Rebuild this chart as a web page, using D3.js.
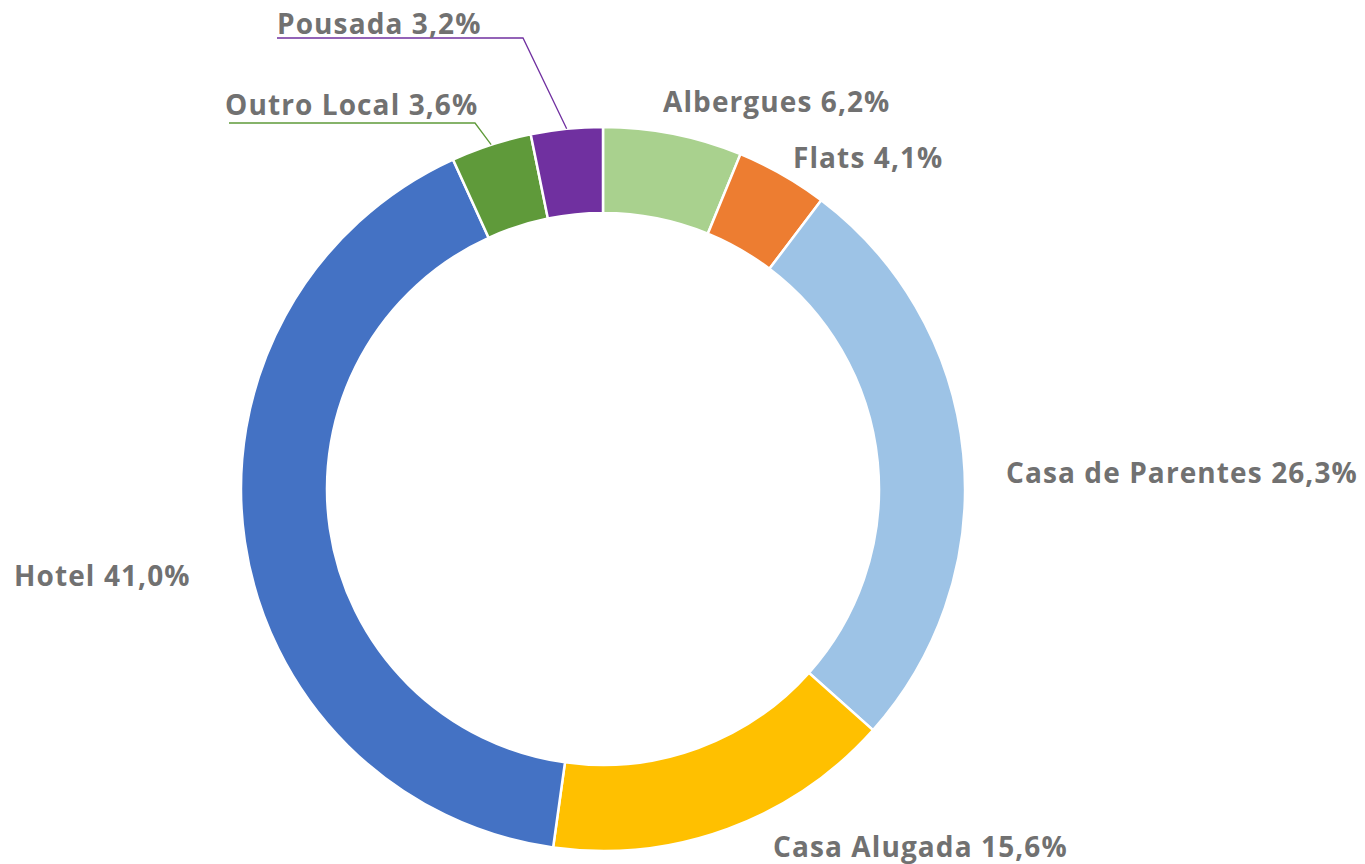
<!DOCTYPE html>
<html>
<head>
<meta charset="utf-8">
<script src="https://cdn.jsdelivr.net/npm/d3@7/dist/d3.min.js"></script>
<style>
  html, body { margin: 0; padding: 0; background: #fff; }
  .label { font-family: "Open Sans", sans-serif; font-weight: 700; fill: #717171; letter-spacing: 1.1px; }
</style>
</head>
<body>
<div id="chart"></div>
<script>
const categories = ['Albergues', 'Flats', 'Casa de Parentes', 'Casa Alugada', 'Hotel', 'Outro Local', 'Pousada'];
const shares = [6.2, 4.1, 26.3, 15.6, 41.0, 3.6, 3.2];
const colors = ['#A9D18E', '#ED7D31', '#9DC3E6', '#FFC000', '#4472C4', '#5F9A3A', '#7030A0'];

// label placement (left x, baseline y), leader line elbow for the small slices
const labelPos = [
  { x: 663, y: 112 },
  { x: 793, y: 168 },
  { x: 1006, y: 483 },
  { x: 773, y: 857 },
  { x: 14, y: 586 },
  { x: 225, y: 115, line: { x0: 229, y: 123, x1: 475 } },
  { x: 277, y: 34, line: { x0: 277, y: 38, x1: 523 } }
];

const width = 1365;
const height = 864;
const cx = 603;
const cy = 489;
const outerR = 362;
const innerR = 276;

const svg = d3.select('#chart')
  .append('svg')
  .attr('width', width)
  .attr('height', height);

const data = categories.map((c, i) => ({ name: c, value: shares[i], color: colors[i], pos: labelPos[i] }));

const pie = d3.pie()
  .value(d => d.value)
  .sort(null)
  .startAngle(0)
  .endAngle(2 * Math.PI);

const arc = d3.arc()
  .innerRadius(innerR)
  .outerRadius(outerR);

const g = svg.append('g')
  .attr('transform', `translate(${cx}, ${cy})`);

const arcs = pie(data);

g.selectAll('path.slice')
  .data(arcs)
  .join('path')
  .attr('class', 'slice')
  .attr('d', arc)
  .attr('fill', d => d.data.color)
  .attr('stroke', '#fff')
  .attr('stroke-width', 2.5);

// leader lines
arcs.filter(d => d.data.pos.line).forEach(d => {
  const l = d.data.pos.line;
  const a = (d.startAngle + d.endAngle) / 2;
  const ex = cx + outerR * Math.sin(a);
  const ey = cy - outerR * Math.cos(a);
  svg.append('polyline')
    .attr('points', `${l.x0},${l.y} ${l.x1},${l.y} ${ex},${ey}`)
    .attr('fill', 'none')
    .attr('stroke', d.data.color)
    .attr('stroke-width', 1.3);
});

const fmt = v => v.toFixed(1).replace('.', ',') + '%';

svg.selectAll('text.label')
  .data(arcs)
  .join('text')
  .attr('class', 'label')
  .attr('x', d => d.data.pos.x)
  .attr('y', d => d.data.pos.y)
  .attr('font-size', 28)
  .text(d => `${d.data.name} ${fmt(d.data.value)}`);
</script>
</body>
</html>
